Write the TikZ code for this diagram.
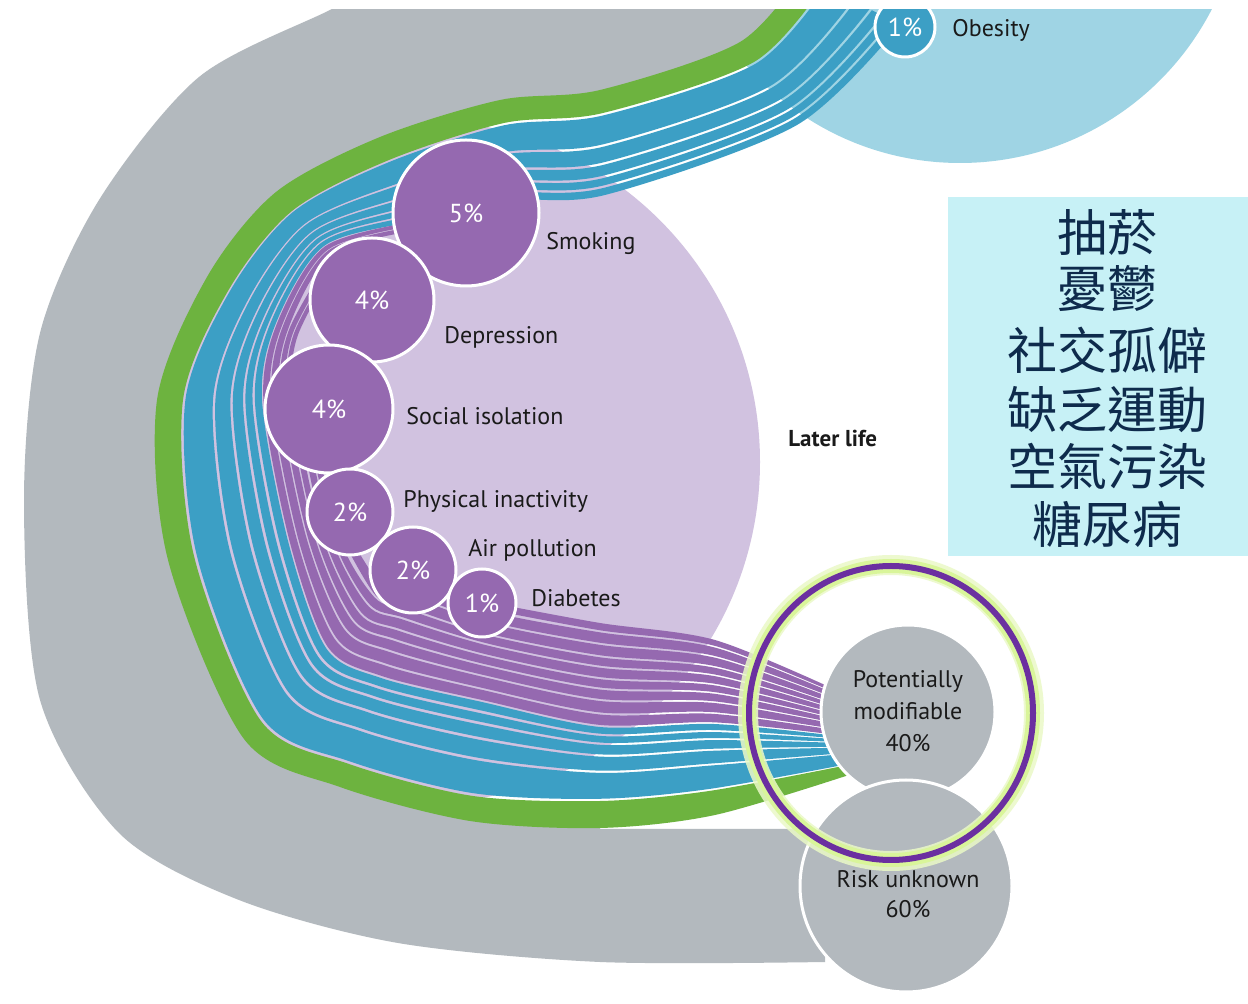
\documentclass[tikz,border=0pt]{standalone}
\usepackage{fontspec}
\setmainfont{PT Sans}
\newfontfamily\cjk{Noto Sans CJK TC}
\usetikzlibrary{calc}
\definecolor{cgray}{HTML}{B3B9BE}
\definecolor{cgreen}{HTML}{6DB33F}
\definecolor{cblue}{HTML}{3C9FC5}
\definecolor{clight}{HTML}{9FD4E4}
\definecolor{clav}{HTML}{D1C2E0}
\definecolor{cpurple}{HTML}{9569B0}
\definecolor{cbox}{HTML}{C7F1F6}
\definecolor{cjktext}{HTML}{0E2B4C}
\definecolor{cring}{HTML}{6B2FA0}
\definecolor{cglow}{HTML}{D9F59A}
\definecolor{ctext}{HTML}{1A1A1A}
% band between curves #2 and #3 at fractions #4..#5, from node #6 on
\newcommand\mkband[6]{%
  \foreach \k in {#6,...,14}{%
    \coordinate (bA\k) at ($(#2\k)!#4!(#3\k)$);
    \coordinate (bB\k) at ($(#2\k)!#5!(#3\k)$);
  }%
  \gdef\lstA{}\gdef\lstB{}%
  \foreach \k in {#6,...,14}{\xdef\lstA{\lstA(bA\k)}}%
  \foreach \k in {14,13,...,#6}{\xdef\lstB{\lstB(bB\k)}}%
  \edef\tmp{\noexpand\fill[#1] plot[smooth] coordinates {\lstA} -- plot[smooth] coordinates {\lstB} -- cycle;}%
  \tmp
}
\begin{document}
\begin{tikzpicture}[x=0.5pt,y=-0.5pt,
  pcirc/.style={circle,fill=cpurple,draw=white,line width=1.5pt,inner sep=0pt,text=white,font=\fontsize{13}{15}\selectfont},
  gcirc/.style={circle,fill=cgray,draw=white,line width=1.5pt,inner sep=0pt},
  lbl/.style={anchor=base west,inner sep=0pt,text=ctext,font=\fontsize{12}{14}\selectfont},
  clbl/.style={anchor=base,inner sep=0pt,text=ctext,font=\fontsize{12}{14}\selectfont},
  cjkl/.style={anchor=center,inner sep=0pt,text=cjktext,font=\cjk\fontsize{25}{29}\selectfont}]
\useasboundingbox (0,0) rectangle (1248,1004);
\fill[white] (0,0) rectangle (1248,1004);
% base curves: O green outer, G green inner, L blue inner, P purple inner
\foreach \i/\x/\y in {0/804/-30,1/740/42,2/600/90,3/500/100,4/380/137,5/276/192,6/207/277,7/157/400,8/168/560,9/244/739,10/340/787,11/470/821,12/600/828,13/715/815,14/852/774}{\coordinate (O\i) at (\x,\y);}
\foreach \i/\x/\y in {0/824/-15,1/754/62,2/603/113,3/504/123,4/389/160,5/292/211,6/228/291,7/183/400,8/194/556,9/261/721,10/349/764,11/473/796,12/600/801,13/709/791,14/848/765}{\coordinate (G\i) at (\x,\y);}
\foreach \i/\x/\y in {0/900/25,1/797/125,2/605/195,3/503/200,4/414/221,5/324/246,6/276/323,7/262/400,8/288/541,9/326/648,10/381/678,11/482/702,12/600/727,13/714/724,14/838/736}{\coordinate (L\i) at (\x,\y);}
\foreach \i/\x/\y in {0/900/25,1/797/125,2/605/200,3/503/210,4/429/258,5/353/279,6/322/354,7/332/400,8/362/529,9/398/572,10/421/576,11/492/603,12/600/623,13/715/640,14/836/690}{\coordinate (P\i) at (\x,\y);}
\begin{scope}
\clip (0,10) rectangle (1248,1004);
\fill[clight] (960,-120) circle[radius=283];
\fill[clav] (418,462) circle[radius=342];
% gray C-shape
\foreach \k in {0,...,12}{\coordinate (gi\k) at ($(O\k)!0.5!(G\k)$);}
\gdef\lstG{}\foreach \k in {12,11,...,0}{\xdef\lstG{\lstG(gi\k)}}
\edef\tmp{\noexpand\fill[cgray] plot[smooth] coordinates {(410,-30) (330,10) (199,77) (99,200) (40,333) (24,500) (40,700) (119,833) (239,900) (398,943) (600,962) (825,962)} -- (825,829) -- (600,829) -- plot[smooth] coordinates {\lstG} -- cycle;}\tmp
% green band
\mkband{fill=cgreen}{O}{G}{0}{1}{0}
% blue bands
\mkband{fill=cblue}{G}{L}{0.03}{0.38}{0}
\mkband{fill=cblue}{G}{L}{0.41}{0.60}{0}
\mkband{fill=cblue}{G}{L}{0.63}{0.76}{0}
\mkband{fill=cblue}{G}{L}{0.79}{0.88}{0}
\mkband{fill=cblue}{G}{L}{0.91}{1}{0}
% purple bands
\mkband{fill=cpurple}{L}{P}{0.02}{0.12}{4}
\mkband{fill=cpurple}{L}{P}{0.14}{0.25}{4}
\mkband{fill=cpurple}{L}{P}{0.27}{0.36}{5}
\mkband{fill=cpurple}{L}{P}{0.38}{0.46}{5}
\mkband{fill=cpurple}{L}{P}{0.48}{0.57}{7}
\mkband{fill=cpurple}{L}{P}{0.59}{0.67}{7}
\mkband{fill=cpurple}{L}{P}{0.69}{0.79}{8}
\mkband{fill=cpurple}{L}{P}{0.81}{0.91}{9}
\mkband{fill=cpurple}{L}{P}{0.93}{1}{11}
\node[gcirc,fill=cblue,minimum size=30pt,text=white,font=\fontsize{13}{15}\selectfont] (obe) at (905,27) {1\%};
\end{scope}
% purple factor circles
\node[pcirc,minimum size=73pt] (smk) at (466,213) {5\%};
\node[pcirc,minimum size=62pt] (dep) at (372,300) {4\%};
\node[pcirc,minimum size=64pt] (soc) at (329,409) {4\%};
\node[pcirc,minimum size=43pt] (phy) at (350,512) {2\%};
\node[pcirc,minimum size=43pt] (air) at (413,570) {2\%};
\node[pcirc,minimum size=34pt] (dia) at (482,603) {1\%};
% labels
\node[lbl] (lsmk) at (546,250) {Smoking};
\node[lbl] (ldep) at (444,344) {Depression};
\node[lbl] (lsoc) at (406,425) {Social isolation};
\node[lbl] (lphy) at (403,508) {Physical inactivity};
\node[lbl] (lair) at (468,557) {Air pollution};
\node[lbl] (ldia) at (531,607) {Diabetes};
\node[lbl] (lobe) at (952,37) {Obesity};
\node[lbl,font=\bfseries\fontsize{11.5}{14}\selectfont] (llat) at (788,447) {Later life};
% outcome circles
\node[gcirc,minimum size=87pt] (pm) at (908,712) {};
\node[clbl] (pm1) at (908,688) {Potentially};
\node[clbl] (pm2) at (908,720) {modifiable};
\node[clbl] (pm3) at (908,752) {40\%};
\node[gcirc,minimum size=106pt] (risk) at (906,886) {};
\node[clbl] (rk1) at (908,887) {Risk unknown};
\node[clbl] (rk2) at (908,917) {60\%};
% highlight ring
\draw[cglow!55!white,line width=10pt,opacity=0.85] (891,713) ellipse[x radius=143,y radius=148];
\draw[cglow,line width=7pt] (891,713) ellipse[x radius=142,y radius=147];
\draw[cring,line width=3pt] (891,713) ellipse[x radius=142,y radius=147];
% Chinese box
\fill[cbox] (948,197) rectangle (1248,556);
\node[cjkl] (c1) at (1107,233) {抽菸};
\node[cjkl] (c2) at (1107,289) {憂鬱};
\node[cjkl] (c3) at (1107,350) {社交孤僻};
\node[cjkl] (c4) at (1107,410) {缺乏運動};
\node[cjkl] (c5) at (1107,466) {空氣污染};
\node[cjkl] (c6) at (1107,524) {糖尿病};
\end{tikzpicture}
\end{document}
